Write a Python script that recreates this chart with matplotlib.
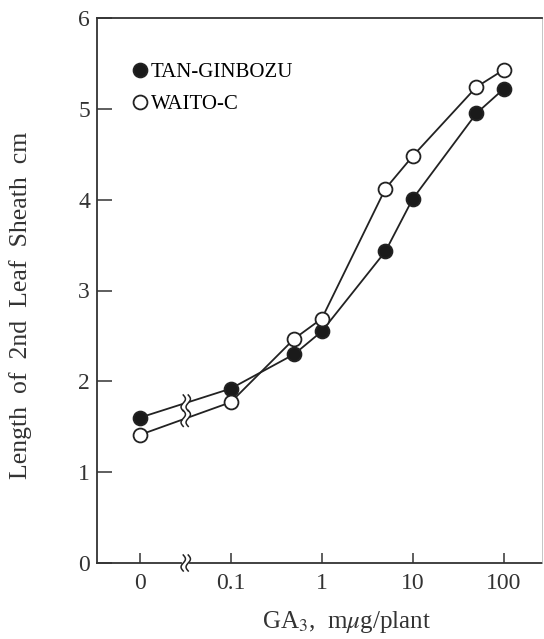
import numpy as np
import matplotlib
matplotlib.use("Agg")
import matplotlib.pyplot as plt
from matplotlib.lines import Line2D

plt.rcParams['font.family'] = ['Liberation Serif', 'DejaVu Serif']
plt.rcParams['mathtext.fontset'] = 'stix'

# GA3 dose (0 is drawn at the 0.01 position, left of the axis break)
doses = [0, 0.1, 0.5, 1, 5, 10, 50, 100]
tan_ginbozu = [1.60, 1.92, 2.30, 2.55, 3.43, 4.01, 4.95, 5.22]
waito_c = [1.41, 1.77, 2.47, 2.69, 4.12, 4.48, 5.24, 5.43]
xtick_labels = ["0", "0.1", "1", "10", "100"]
xtick_vals = [0, 0.1, 1, 10, 100]
zero_pos = 0.01
break_pos = 0.032

def xpos(v):
    return [zero_pos if d == 0 else d for d in v]

fig = plt.figure(figsize=(5.44, 6.39), dpi=100)
ax = fig.add_axes([97/544, 1 - 563/639, (542-97)/544, (563-18)/639])
ax.set_xscale('log')
ax.set_xlim(10**-2.47, 10**2.42)
ax.set_ylim(0, 6)

lw = 1.3
ms = 10
ink = '#222222'

def squiggle(x, y):
    # small vertical break mark, drawn in pixel offsets
    t = np.linspace(-1, 1, 30)
    disp = ax.transData.transform((x, y))
    for dx in (-2.5, 2.5):
        px = disp[0] + dx + 2.2 * np.sin(t * np.pi)
        py = disp[1] + 8 * t
        fig.add_artist(Line2D(px, py, color=ink, lw=1.1, transform=None,
                              clip_on=False, zorder=5))

def draw_series(vals, face):
    xs = xpos(doses)
    y0, y1 = vals[0], vals[1]
    lx0, lx1 = np.log10(xs[0]), np.log10(xs[1])
    lb = np.log10(break_pos)
    slope = (y1 - y0) / (lx1 - lx0)
    yb = y0 + slope * (lb - lx0)
    gap = 0.045
    ax.plot([xs[0], 10**(lb - gap)], [y0, yb - slope * gap], color=ink, lw=lw, zorder=2)
    ax.plot([10**(lb + gap), xs[1]], [yb + slope * gap, y1], color=ink, lw=lw, zorder=2)
    ax.plot(xs[1:], vals[1:], color=ink, lw=lw, zorder=2)
    ax.plot(xs, vals, 'o', ms=ms, mfc=face, mec=ink, mew=1.3, zorder=3, ls='none')
    return yb

ax.spines['bottom'].set_visible(False)

yb1 = draw_series(tan_ginbozu, '#1a1a1a')
yb2 = draw_series(waito_c, 'white')
fig.canvas.draw()
squiggle(break_pos, yb1)
squiggle(break_pos, yb2)

# bottom axis with break
ax.plot([10**-2.47, 10**(np.log10(break_pos) - 0.05)], [0, 0], color='#333333', lw=1.3, clip_on=False)
ax.plot([10**(np.log10(break_pos) + 0.05), 10**2.42], [0, 0], color='#333333', lw=1.3, clip_on=False)
squiggle(break_pos, 0)

# legend
h1 = Line2D([], [], marker='o', ls='none', ms=ms, mfc='#1a1a1a', mec=ink, mew=1.3)
h2 = Line2D([], [], marker='o', ls='none', ms=ms, mfc='white', mec=ink, mew=1.3)
ax.legend([h1, h2], ['TAN-GINBOZU', 'WAITO-C'], loc='upper left', bbox_to_anchor=(0.057, 0.937),
          frameon=False, handlelength=0.7, handletextpad=0.15, borderpad=0,
          labelspacing=0.6, fontsize=15)

ax.set_xticks(xpos(xtick_vals))
ax.set_xticklabels(xtick_labels)
ax.xaxis.set_minor_locator(matplotlib.ticker.NullLocator())
ax.set_yticks(range(0, 7))
ax.tick_params(axis='x', direction='in', length=7, width=1.1, labelsize=17, pad=7, colors='#333333')
ax.tick_params(axis='y', direction='in', length=11, width=1.1, labelsize=17, pad=5, colors='#333333')
for sp in ('left', 'top'):
    ax.spines[sp].set_linewidth(1.3)
    ax.spines[sp].set_color('#333333')
ax.spines['right'].set_linewidth(0.6)
ax.spines['right'].set_color('#bbbbbb')

ax.set_xlabel(r'GA$_3$,  m$\mu$g/plant', fontsize=18, color='#333333', labelpad=8)
ax.xaxis.set_label_coords(0.56, -0.085)
ax.set_ylabel('Length  of  2nd  Leaf  Sheath  cm', fontsize=18.5, color='#333333', labelpad=26)
ax.yaxis.set_label_coords(-0.145, 0.473)

fig.savefig('out.png', dpi=100)
